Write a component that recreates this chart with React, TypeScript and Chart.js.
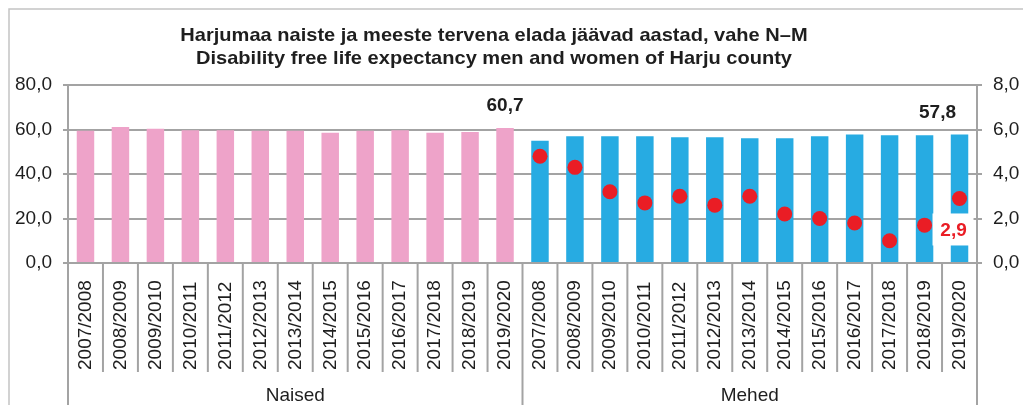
import React, { useEffect, useRef } from "react";
import { Chart, registerables } from "chart.js";

Chart.register(...registerables);

const titleLines = [
  "Harjumaa naiste ja meeste tervena elada jäävad aastad, vahe N–M",
  "Disability free life expectancy men and women of Harju county",
];
const seasons = [
  "2007/2008", "2008/2009", "2009/2010", "2010/2011", "2011/2012", "2012/2013", "2013/2014",
  "2014/2015", "2015/2016", "2016/2017", "2017/2018", "2018/2019", "2019/2020",
];
const groups = ["Naised", "Mehed"];
const womenValues = [59.4, 61.1, 60.3, 59.7, 59.7, 59.4, 59.4, 58.5, 59.4, 59.7, 58.5, 58.9, 60.7];
const menValues = [54.9, 57.0, 57.0, 57.0, 56.5, 56.5, 56.1, 56.1, 57.0, 57.8, 57.4, 57.4, 57.8];
const diffValues = [4.8, 4.3, 3.2, 2.7, 3.0, 2.6, 3.0, 2.2, 2.0, 1.8, 1.0, 1.7, 2.9];
const leftTicks = [0, 20, 40, 60, 80];
const rightTicks = [0, 2, 4, 6, 8];

const PINK = "#eea3c9";
const BLUE = "#27abe2";
const RED = "#ea1d25";
const GRID = "#a3a3a3";
const FONT = "'Liberation Sans', Arial, sans-serif";

const fmt = (v: number) => v.toFixed(1).replace(".", ",");

export default function App() {
  const ref = useRef<HTMLCanvasElement>(null);
  useEffect(() => {
    if (!ref.current) return;
    const labels = [...seasons, ...seasons];
    const n = seasons.length;
    const overlay = {
      id: "overlay",
      afterDatasetsDraw(chart: any) {
        const { ctx, scales } = chart;
        const x = scales.x;
        const y = scales.y;
        const y1 = scales.y1;
        const bottom = y.getPixelForValue(0);
        const step = x.getPixelForValue(1) - x.getPixelForValue(0);
        const half = step / 2;
        ctx.save();
        // outer frame
        ctx.strokeStyle = "#c4c4c4";
        ctx.lineWidth = 1.5;
        ctx.beginPath();
        ctx.moveTo(9, 405);
        ctx.lineTo(9, 9);
        ctx.lineTo(1023, 9);
        ctx.stroke();
        // title
        ctx.fillStyle = "#1e1e1e";
        ctx.font = `bold 19px ${FONT}`;
        ctx.textAlign = "center";
        ctx.textBaseline = "middle";
        titleLines.forEach((t, i) => {
          ctx.save();
          ctx.translate(494, i === 0 ? 36 : 59);
          ctx.scale(1.055, 1);
          ctx.fillText(t, 0, 0);
          ctx.restore();
        });
        // separators
        ctx.strokeStyle = GRID;
        ctx.lineWidth = 2;
        for (let i = 0; i <= labels.length; i++) {
          const px = x.getPixelForValue(0) - half + i * step;
          ctx.beginPath();
          ctx.moveTo(px, bottom);
          ctx.lineTo(px, i % n === 0 ? 405 : 372);
          ctx.stroke();
        }
        // category labels
        ctx.fillStyle = "#1e1e1e";
        ctx.font = `19px ${FONT}`;
        ctx.textAlign = "left";
        ctx.textBaseline = "middle";
        labels.forEach((lab, i) => {
          const px = x.getPixelForValue(i);
          ctx.save();
          ctx.translate(px + 0.5, 370);
          ctx.rotate(-Math.PI / 2);
          ctx.scale(1, 0.92);
          ctx.fillText(lab, 0, 0);
          ctx.restore();
        });
        // group labels
        ctx.textAlign = "center";
        ctx.font = `19px ${FONT}`;
        groups.forEach((g, gi) => {
          const l = x.getPixelForValue(gi * n) - half;
          const r = x.getPixelForValue(gi * n + n - 1) + half;
          ctx.fillText(g, (l + r) / 2, 396);
        });
        // value labels
        ctx.font = `bold 19px ${FONT}`;
        const wLast = womenValues[n - 1];
        const mLast = menValues[n - 1];
        ctx.fillText(fmt(wLast), x.getPixelForValue(n - 1), y.getPixelForValue(wLast) - 22);
        ctx.fillText(fmt(mLast), x.getPixelForValue(2 * n - 1) - 22, y.getPixelForValue(mLast) - 22);
        // diff label
        const dLast = diffValues[n - 1];
        const cx = x.getPixelForValue(2 * n - 1) - 6;
        const cy = y1.getPixelForValue(dLast) + 31;
        ctx.fillStyle = "#ffffff";
        ctx.fillRect(cx - 21, cy - 16, 41, 32);
        ctx.fillStyle = RED;
        ctx.fillText(fmt(dLast), cx, cy + 1);
        ctx.restore();
      },
    };
    const chart = new Chart(ref.current, {
      type: "bar",
      data: {
        labels,
        datasets: [
          {
            type: "line",
            label: "vahe",
            data: [...seasons.map(() => null), ...diffValues],
            yAxisID: "y1",
            showLine: false,
            pointRadius: 7.5,
            pointHoverRadius: 7.5,
            pointBackgroundColor: RED,
            pointBorderWidth: 0,
            borderColor: RED,
            order: 0,
          } as any,
          {
            type: "bar",
            label: "aastad",
            data: [...womenValues, ...menValues],
            backgroundColor: [...womenValues.map(() => PINK), ...menValues.map(() => BLUE)],
            yAxisID: "y",
            barPercentage: 0.5,
            categoryPercentage: 1,
            order: 1,
          },
        ],
      },
      options: {
        responsive: false,
        animation: false,
        layout: { padding: { top: 85, bottom: 142, left: 0, right: 0 } },
        plugins: { legend: { display: false }, title: { display: false }, tooltip: { enabled: false } },
        scales: {
          x: { display: false, offset: true },
          y: {
            position: "left",
            min: 0,
            max: 80,
            afterBuildTicks: (s: any) => { s.ticks = leftTicks.map((v) => ({ value: v })); },
            afterFit: (s: any) => { s.width = 68; },
            border: { color: GRID, width: 2 },
            grid: { color: GRID, lineWidth: 2, tickLength: 5 },
            ticks: {
              padding: 11,
              color: "#1e1e1e",
              font: { family: FONT, size: 19 },
              callback: (v: any) => fmt(Number(v)),
            },
          },
          y1: {
            position: "right",
            min: 0,
            max: 8,
            afterBuildTicks: (s: any) => { s.ticks = rightTicks.map((v) => ({ value: v })); },
            afterFit: (s: any) => { s.width = 46; },
            border: { color: GRID, width: 2 },
            grid: { color: GRID, lineWidth: 2, tickLength: 5, drawOnChartArea: false },
            ticks: {
              padding: 11,
              color: "#1e1e1e",
              font: { family: FONT, size: 19 },
              callback: (v: any) => fmt(Number(v)),
            },
          },
        },
      },
      plugins: [overlay],
    });
    return () => chart.destroy();
  }, []);
  return (
    <div style={{ position: "absolute", left: 0, top: 0, width: 1023, height: 405, background: "#fff" }}>
      <canvas ref={ref} width={1023} height={405} style={{ display: "block" }} />
    </div>
  );
}
